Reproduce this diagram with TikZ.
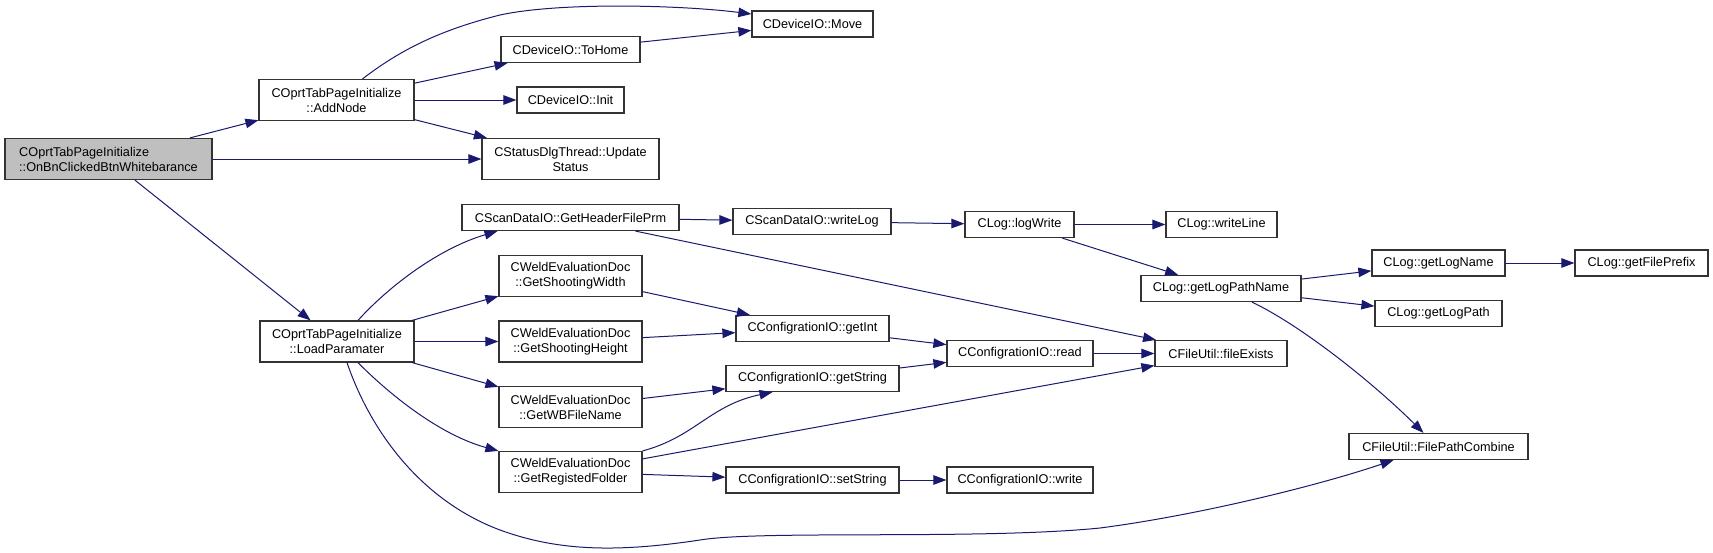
\documentclass[tikz,border=0pt]{standalone}
\usepackage{fontspec}
\setmainfont{Liberation Sans}
\usetikzlibrary{arrows.meta}
\definecolor{edgeblue}{HTML}{191970}
\tikzset{
  fn/.style={draw=black!80,fill=white,line width=1.2pt,inner sep=0pt,
    minimum height=26pt,align=center,font=\fontsize{12.7}{15}\selectfont},
  fn2/.style={fn,minimum height=41pt},
  call/.style={draw=edgeblue,line width=1pt,-{Triangle[length=13pt,width=9.5pt]}}
}

\begin{document}
\begin{tikzpicture}[x=1pt,y=-1pt]
    \useasboundingbox (0,0) rectangle (1713,552);
    \node[fn2,fill=black!25,align=left,minimum width=207pt] (onbn) at (108.5,159)
    {COprtTabPageInitialize\\::OnBnClickedBtnWhitebarance};
    \node[fn2,minimum width=155pt] (addnode) at (336.5,100) {COprtTabPageInitialize\\::AddNode};
    \node[fn,minimum width=121pt] (move) at (812.5,24) {CDeviceIO::Move};
    \node[fn,minimum width=139pt] (tohome) at (570.5,49.5) {CDeviceIO::ToHome};
    \node[fn,minimum width=107pt] (init) at (570.5,100) {CDeviceIO::Init};
    \node[fn2,minimum width=177pt] (update) at (570.5,159) {CStatusDlgThread::Update\\Status};
    \node[fn2,minimum width=154pt] (loadparam) at (337,341.5) {COprtTabPageInitialize\\::LoadParamater};
    \node[fn,minimum width=217pt] (header) at (570.5,217.5) {CScanDataIO::GetHeaderFilePrm};
    \node[fn2,minimum width=143pt] (shootw) at (570.5,276) {CWeldEvaluationDoc\\::GetShootingWidth};
    \node[fn2,minimum width=143pt] (shooth) at (570.5,341.5) {CWeldEvaluationDoc\\::GetShootingHeight};
    \node[fn2,minimum width=143pt] (wbfile) at (570.5,407) {CWeldEvaluationDoc\\::GetWBFileName};
    \node[fn2,minimum width=143pt] (regfolder) at (570.5,472) {CWeldEvaluationDoc\\::GetRegistedFolder};
    \node[fn,minimum width=158pt] (writelog) at (812,221.5) {CScanDataIO::writeLog};
    \node[fn,minimum width=153pt] (getint) at (812.5,328.5) {CConfigrationIO::getInt};
    \node[fn,minimum width=173pt] (getstring) at (812.5,378.5) {CConfigrationIO::getString};
    \node[fn,minimum width=173pt] (setstring) at (812.5,480) {CConfigrationIO::setString};
    \node[fn,minimum width=109pt] (logwrite) at (1019.5,224.5) {CLog::logWrite};
    \node[fn,minimum width=146pt] (cread) at (1020,353.5) {CConfigrationIO::read};
    \node[fn,minimum width=146pt] (cwrite) at (1020,480) {CConfigrationIO::write};
    \node[fn,minimum width=111pt] (writeline) at (1221.5,224.5) {CLog::writeLine};
    \node[fn,minimum width=160pt] (logpathname) at (1221,288.5) {CLog::getLogPathName};
    \node[fn,minimum width=132pt] (fileexists) at (1221,353.5) {CFileUtil::fileExists};
    \node[fn,minimum width=133pt] (logname) at (1438.5,263) {CLog::getLogName};
    \node[fn,minimum width=127pt] (logpath) at (1438.5,313.5) {CLog::getLogPath};
    \node[fn,minimum width=133pt] (fileprefix) at (1641.5,263) {CLog::getFilePrefix};
    \node[fn,minimum width=179pt] (fpcombine) at (1438.5,446.5) {CFileUtil::FilePathCombine};

    \draw[call] (onbn) -- (addnode);
    \draw[call] (onbn) -- (update);
    \draw[call] (onbn) -- (loadparam);
    \draw[call] ([xshift=26pt]addnode.north) .. controls (400,50) and (440,30) .. (500,15)
    .. controls (560,2) and (680,5) .. ([yshift=10pt]move.west);
    \draw[call] (addnode) -- (tohome);
    \draw[call] (addnode) -- (init);
    \draw[call] (addnode) -- (update);
    \draw[call] (tohome) -- (move);
    \draw[call] ([xshift=21pt]loadparam.north) .. controls (390,285) and (440,248)
    .. ([xshift=-73pt]header.south);
    \draw[call] (loadparam) -- (shootw);
    \draw[call] (loadparam) -- (shooth);
    \draw[call] (loadparam) -- (wbfile);
    \draw[call] ([xshift=21pt]loadparam.south) .. controls (390,395) and (440,435)
    .. (regfolder.north west);
    \draw[call] ([xshift=10pt]loadparam.south) .. controls (370,430) and (420,500) .. (500,530)
    .. controls (560,552) and (620,552) .. (700,540)
    .. controls (760,530) and (980,540) .. (1100,528)
    .. controls (1200,515) and (1320,485) .. ([xshift=-45pt]fpcombine.south);
    \draw[call] (header) -- (writelog);
    \draw[call] (header) -- (fileexists);
    \draw[call] (shootw) -- (getint);
    \draw[call] (shooth) -- (getint);
    \draw[call] (wbfile) -- (getstring);
    \draw[call] (regfolder.north east) .. controls (695,437) and (710,405)
    .. ([xshift=-40pt]getstring.south);
    \draw[call] (regfolder) -- (fileexists);
    \draw[call] (regfolder) -- (setstring);
    \draw[call] (writelog) -- (logwrite);
    \draw[call] (getint) -- (cread);
    \draw[call] (getstring) -- (cread);
    \draw[call] (setstring) -- (cwrite);
    \draw[call] (cread) -- (fileexists);
    \draw[call] (logwrite) -- (writeline);
    \draw[call] (logwrite) -- (logpathname);
    \draw[call] (logpathname) -- (logname);
    \draw[call] (logpathname) -- (logpath);
    \draw[call] ([xshift=31pt]logpathname.south) .. controls (1300,325) and (1370,380)
    .. ([xshift=-15pt]fpcombine.north);
    \draw[call] (logname) -- (fileprefix);
\end{tikzpicture}
\end{document}
